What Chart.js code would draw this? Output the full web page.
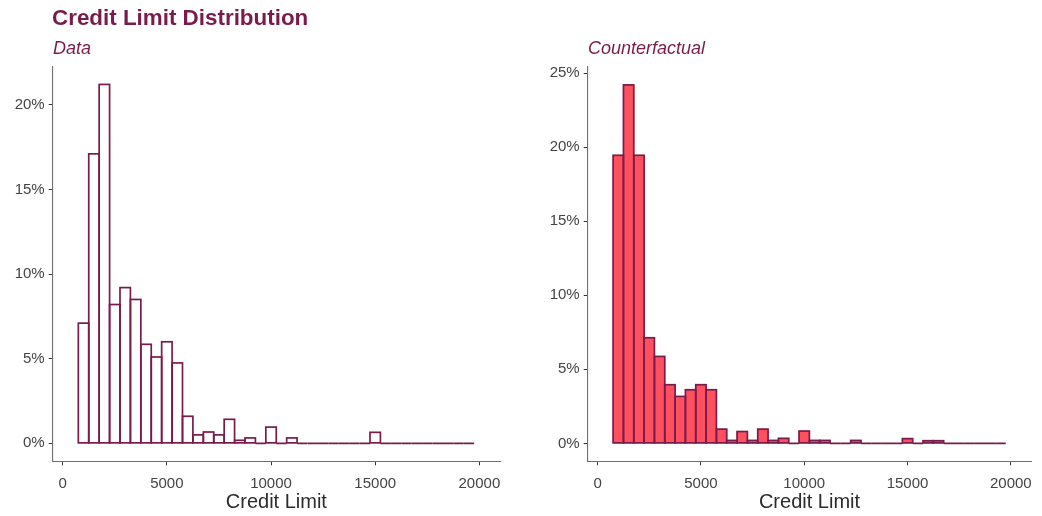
<!DOCTYPE html>
<html>
<head>
<meta charset="utf-8">
<script src="https://cdn.jsdelivr.net/npm/chart.js@4.4.1/dist/chart.umd.min.js"></script>
<style>
  html, body { margin: 0; padding: 0; background: #ffffff; }
  #wrap { position: relative; width: 1042px; height: 516px; overflow: hidden; font-family: "Liberation Sans", Arial, sans-serif; }
  .panel { position: absolute; top: 0; width: 521px; height: 516px; }
  .txt { position: absolute; white-space: nowrap; color: #7a1c4b; }
  #title { left: 52px; top: 7px; font-size: 22.4px; line-height: 22px; font-weight: bold; }
  .sub { top: 39px; font-size: 18px; line-height: 18px; font-style: italic; }
</style>
</head>
<body>
<div id="wrap">
  <div class="panel" style="left:0px"><canvas id="c1" width="521" height="516"></canvas></div>
  <div class="panel" style="left:521px"><canvas id="c2" width="521" height="516"></canvas></div>
  <div id="title" class="txt">Credit Limit Distribution</div>
  <div class="txt sub" style="left:53px">Data</div>
  <div class="txt sub" style="left:588px">Counterfactual</div>
</div>
<script>
// Bin centres (credit limit), bin width 500
const binCenters = [1000, 1500, 2000, 2500, 3000, 3500, 4000, 4500, 5000, 5500,
  6000, 6500, 7000, 7500, 8000, 8500, 9000, 9500, 10000, 10500,
  11000, 11500, 12000, 12500, 13000, 13500, 14000, 14500, 15000, 15500,
  16000, 16500, 17000, 17500, 18000, 18500, 19000, 19500];

// Share of observations (%) per bin — observed data
const dataShare = [7.1, 17.1, 21.2, 8.2, 9.2, 8.5, 5.85, 5.1, 6.0, 4.75,
  1.6, 0.5, 0.67, 0.5, 1.42, 0.18, 0.32, 0, 0.96, 0,
  0.32, 0, 0, 0, 0, 0, 0, 0, 0.65, 0,
  0, 0, 0, 0, 0, 0, 0, 0];

// Share of observations (%) per bin — counterfactual
const cfShare = [19.45, 24.2, 19.45, 7.13, 5.87, 3.96, 3.17, 3.62, 3.96, 3.62,
  0.96, 0.2, 0.8, 0.2, 0.96, 0.2, 0.34, 0, 0.83, 0.2,
  0.2, 0, 0, 0.2, 0, 0, 0, 0, 0.32, 0,
  0.18, 0.18, 0, 0, 0, 0, 0, 0];

const xTicks = [0, 5000, 10000, 15000, 20000];
const yTicksData = [0, 5, 10, 15, 20];
const yTicksCf = [0, 5, 10, 15, 20, 25];

const OUTLINE = '#7a1c4b';
const FONT = "'Liberation Sans', Arial, sans-serif";

// Stroke full outlines of each histogram bar (ggplot style, shared edges)
const outlinePlugin = {
  id: 'outline',
  afterDatasetsDraw(chart) {
    const ctx = chart.ctx;
    const meta = chart.getDatasetMeta(0);
    ctx.save();
    ctx.strokeStyle = OUTLINE;
    ctx.lineWidth = 1.7;
    ctx.lineJoin = 'miter';
    meta.data.forEach(el => {
      const p = el.getProps(['x', 'y', 'base', 'width'], true);
      const left = p.x - p.width / 2;
      const top = Math.min(p.y, p.base);
      const h = Math.abs(p.base - p.y);
      ctx.strokeRect(left, top, p.width, h);
    });
    ctx.restore();
  }
};

function makeChart(id, values, fill, yMin, yMax, yTicks, pad) {
  const pts = binCenters.map((x, i) => ({ x: x, y: values[i] }));
  return new Chart(document.getElementById(id), {
    type: 'bar',
    data: {
      datasets: [{
        data: pts,
        backgroundColor: fill,
        borderWidth: 0,
        barPercentage: 1.0,
        categoryPercentage: 1.0
      }]
    },
    plugins: [outlinePlugin],
    options: {
      responsive: false,
      animation: false,
      events: [],
      layout: { padding: pad },
      plugins: { legend: { display: false }, tooltip: { enabled: false } },
      scales: {
        x: {
          type: 'linear',
          offset: false,
          min: -480,
          max: 20990,
          afterBuildTicks(scale) { scale.ticks = xTicks.map(v => ({ value: v })); },
          afterFit(scale) { scale.height = 52.7; },
          grid: { display: true, offset: false, drawOnChartArea: false, drawTicks: true, tickLength: 4, tickColor: '#333333', tickWidth: 1 },
          border: { display: true, color: '#6f6f6f', width: 1.1 },
          ticks: { color: '#444444', font: { family: FONT, size: 15 }, padding: 10, maxRotation: 0, autoSkip: false,
                   callback: v => String(v) },
          title: { display: true, text: 'Credit Limit', color: '#2b2b2b', font: { family: FONT, size: 20 }, padding: 0 }
        },
        y: {
          type: 'linear',
          min: yMin,
          max: yMax,
          afterBuildTicks(scale) { scale.ticks = yTicks.map(v => ({ value: v })); },
          afterFit(scale) { scale.width = 52.7; },
          grid: { display: true, offset: false, drawOnChartArea: false, drawTicks: true, tickLength: 4, tickColor: '#333333', tickWidth: 1 },
          border: { display: true, color: '#6f6f6f', width: 1.1 },
          ticks: { color: '#444444', font: { family: FONT, size: 15 }, padding: 4, autoSkip: false,
                   callback: v => v + '%' }
        }
      }
    }
  });
}

makeChart('c1', dataShare, 'rgba(255,255,255,0)', -1.06, 22.23, yTicksData,
  { left: 0, right: 21, top: 67, bottom: 2 });
// right panel: plot area x 587.7..1035 -> within its canvas 66.7..514
makeChart('c2', cfShare, '#ff505f', -1.21, 25.41, yTicksCf,
  { left: 14, right: 7, top: 67, bottom: 2 });
</script>
</body>
</html>
